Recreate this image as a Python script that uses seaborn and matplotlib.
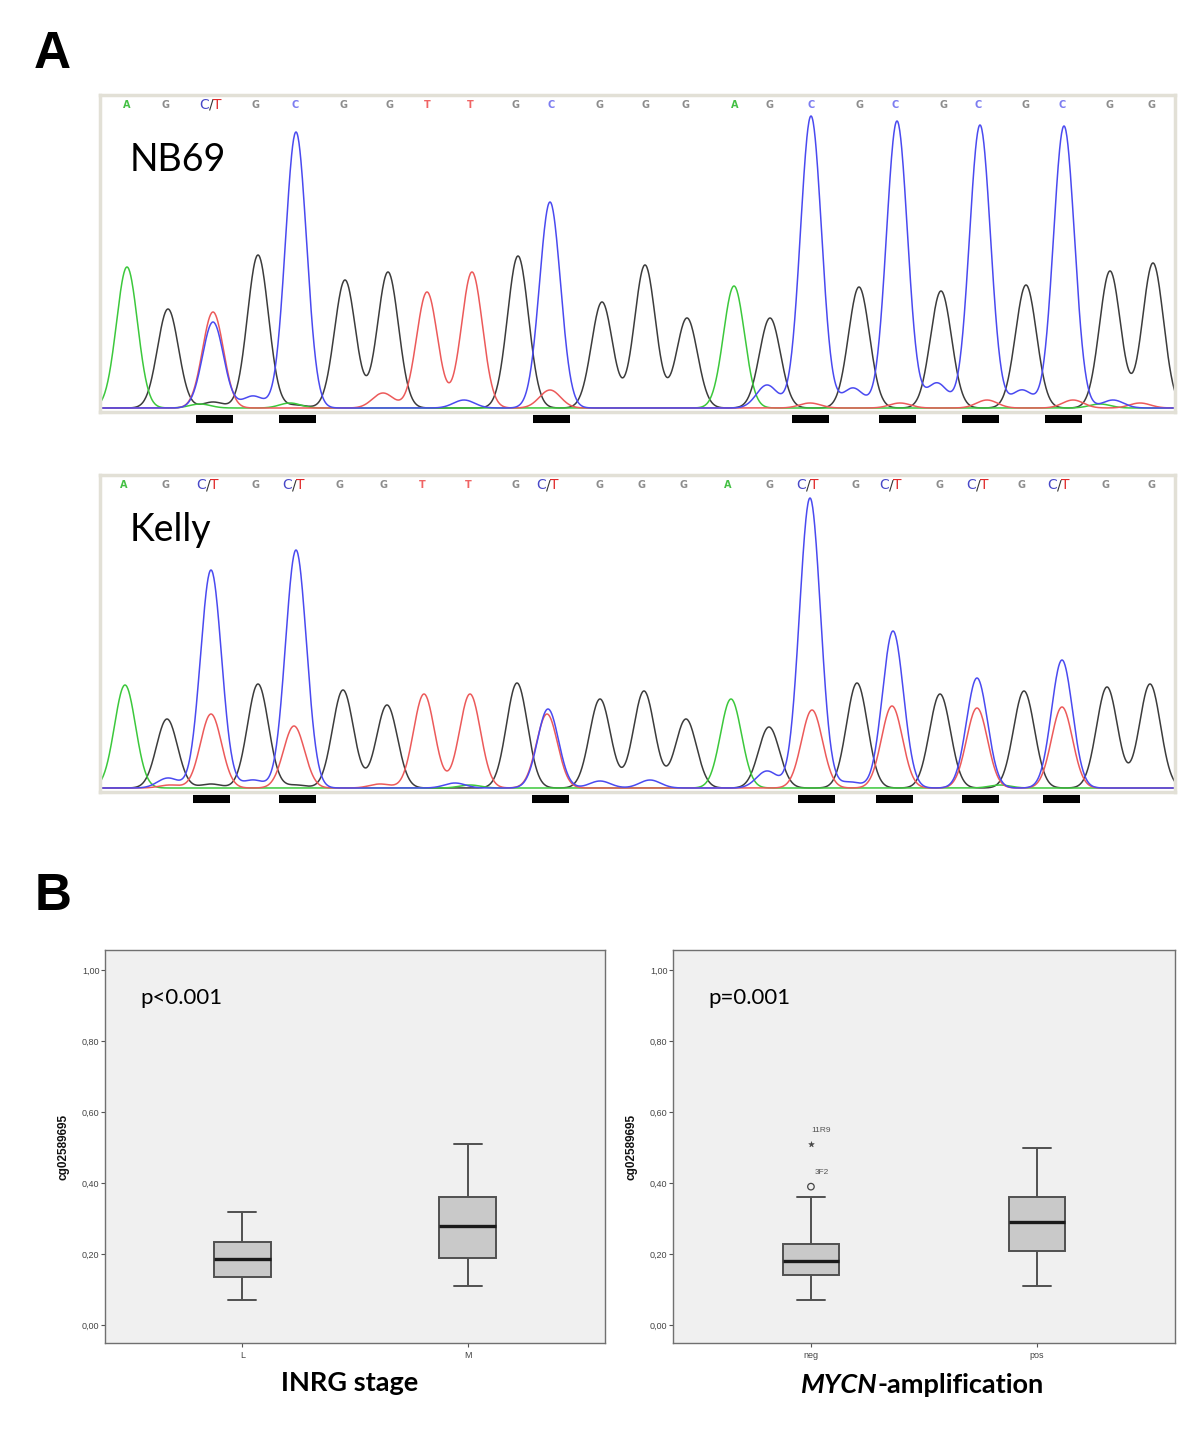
import numpy as np
import pandas as pd
import seaborn as sns
import matplotlib.pyplot as plt

# ----------------------------------------------------------------------------
# data
# ----------------------------------------------------------------------------

# panel A: base calls and their scan positions
nb69_bases = ['A', 'G', 'C/T', 'G', 'C', 'G', 'G', 'T', 'T', 'G', 'C', 'G', 'G',
              'G', 'A', 'G', 'C', 'G', 'C', 'G', 'C', 'G', 'C', 'G', 'G']
nb69_label_x = [127, 166, 211, 256, 295, 343, 389, 427, 470, 516, 551, 600, 645,
                686, 735, 770, 811, 859, 895, 943, 978, 1026, 1062, 1110, 1152]
kelly_bases = ['A', 'G', 'C/T', 'G', 'C/T', 'G', 'G', 'T', 'T', 'G', 'C/T', 'G', 'G',
               'G', 'A', 'G', 'C/T', 'G', 'C/T', 'G', 'C/T', 'G', 'C/T', 'G', 'G']
kelly_label_x = [124, 166, 208, 256, 294, 340, 384, 422, 468, 516, 548, 599, 641,
                 683, 728, 769, 808, 856, 891, 939, 978, 1022, 1059, 1106, 1151]

# peaks per dye channel: (scan position, signal)
nb69_peaks = {
    'G': [(168, 99), (258, 153), (345, 128), (388, 136), (518, 152), (602, 106),
          (645, 143), (687, 90), (770, 90), (859, 121), (941, 117), (1026, 123),
          (1110, 137), (1153, 145), (213, 6), (296, 3)],
    'A': [(127, 141), (734, 122), (200, 4), (290, 5), (1100, 4)],
    'T': [(213, 96), (427, 116), (472, 136), (383, 15), (550, 18), (810, 5),
          (900, 5), (987, 8), (1073, 8), (1140, 5)],
    'C': [(213, 86), (296, 276), (550, 206), (811, 292), (897, 287), (980, 283),
          (1064, 282), (253, 12), (464, 8), (767, 23), (853, 20), (937, 25),
          (1022, 18), (1113, 8)],
}
kelly_peaks = {
    'G': [(167, 69), (258, 104), (343, 98), (387, 83), (517, 105), (600, 89),
          (644, 97), (686, 69), (769, 61), (857, 105), (940, 94), (1024, 97),
          (1107, 101), (1150, 104), (211, 4), (296, 3)],
    'A': [(125, 103), (731, 89), (470, 3), (1000, 3)],
    'T': [(211, 74), (294, 62), (424, 94), (470, 94), (547, 74), (812, 78),
          (892, 82), (977, 80), (1062, 81), (170, 3), (380, 4)],
    'C': [(211, 218), (296, 238), (548, 79), (810, 290), (893, 157), (977, 110),
          (1062, 128), (168, 10), (253, 8), (455, 5), (600, 7), (650, 8),
          (767, 17), (850, 6)],
}

# CpG sites marked under the traces
nb69_cpg_x = [214, 297, 551, 810, 897, 980, 1063]
kelly_cpg_x = [211, 297, 550, 816, 894, 980, 1061]

# panel B: box summaries [min, q1, median, q3, max]
inrg_groups = ['L', 'M']
inrg_stats = [[0.07, 0.135, 0.185, 0.235, 0.32],
              [0.11, 0.19, 0.28, 0.36, 0.51]]
mycn_groups = ['neg', 'pos']
mycn_stats = [[0.07, 0.14, 0.18, 0.23, 0.36],
              [0.11, 0.21, 0.29, 0.36, 0.50]]
mycn_outlier_values = [0.39, 0.51]
mycn_outlier_labels = ['3F2', '11R9']
mycn_outlier_markers = ['o', '*']

ytick_values = [0.0, 0.2, 0.4, 0.6, 0.8, 1.0]
ytick_labels = ['0,00', '0,20', '0,40', '0,60', '0,80', '1,00']

# ----------------------------------------------------------------------------
# style
# ----------------------------------------------------------------------------
sns.set_theme(style='white')
plt.rcParams['font.family'] = ['Liberation Sans', 'DejaVu Sans']
plt.rcParams['text.color'] = 'black'

channel_colors = {'G': '#3c3c3c', 'A': '#3cc83c', 'T': '#ec5a5a', 'C': '#4a4af0'}
label_colors = {'A': '#44c044', 'G': '#8c8c8c', 'C': '#7c7cf0', 'T': '#f06464'}
calibri_like = ['Lato', 'DejaVu Sans']


def build_traces(peaks, grid, sigma=10.5):
    frames = []
    for ch in ['G', 'A', 'T', 'C']:
        sig = np.zeros_like(grid)
        for pos, h in peaks[ch]:
            sig += h * np.exp(-(grid - pos) ** 2 / (2 * sigma ** 2))
        frames.append(pd.DataFrame({'scan': grid, 'signal': sig, 'channel': ch}))
    return pd.concat(frames, ignore_index=True)


def draw_chromatogram(ax, peaks, bases, label_x, cpg_x, name, name_y):
    grid = np.linspace(100, 1175, 2200)
    df = build_traces(peaks, grid)
    sns.lineplot(data=df, x='scan', y='signal', hue='channel',
                 hue_order=['G', 'A', 'T', 'C'], palette=channel_colors,
                 estimator=None, sort=False, linewidth=1.1, legend=False, ax=ax)
    ax.set_xlim(100, 1175)
    ax.set_ylim(-4, 313)
    ax.set_xticks([])
    ax.set_yticks([])
    ax.set_xlabel('')
    ax.set_ylabel('')
    for sp in ax.spines.values():
        sp.set_color('#e2e0d6')
        sp.set_linewidth(2.5)

    # base calls along the top
    for b, x in zip(bases, label_x):
        if b == 'C/T':
            ax.text(x, 303, '/', color='#333333', fontsize=10, ha='center',
                    va='center', family='DejaVu Sans')
            ax.annotate('C', xy=(x, 303), xytext=(-1.6, 0), textcoords='offset points',
                        color='#4848c8', fontsize=10, ha='right', va='center',
                        family='DejaVu Sans')
            ax.annotate('T', xy=(x, 303), xytext=(1.6, 0), textcoords='offset points',
                        color='#e02828', fontsize=10, ha='left', va='center',
                        family='DejaVu Sans')
        else:
            ax.text(x, 303, b, color=label_colors[b], fontsize=7, ha='center',
                    va='center', family='DejaVu Sans', weight='bold')

    # CpG markers below the baseline
    cx = np.array(cpg_x)
    ax.hlines([-11] * len(cx), cx - 18.5, cx + 18.5, colors='black',
              linewidth=5.8, capstyle='butt', clip_on=False)

    ax.text(130, name_y, name, fontsize=27, family=calibri_like, color='black',
            ha='left', va='center')


def draw_boxes(ax, groups, stats, p_text):
    rows = [(g, v) for g, s in zip(groups, stats) for v in s]
    df = pd.DataFrame(rows, columns=['group', 'value'])
    sns.boxplot(data=df, x='group', y='value', order=groups, width=0.25,
                whis=(0, 100), color='#c9c9c9', saturation=1, linecolor='#505050',
                linewidth=1.4, showfliers=False,
                medianprops=dict(color='#1a1a1a', linewidth=2.4), ax=ax)
    ax.set_facecolor('#f0f0f0')
    ax.set_xlim(-0.61, 1.61)
    ax.set_ylim(-0.05, 1.056)
    ax.set_yticks(ytick_values)
    ax.set_yticklabels(ytick_labels)
    ax.tick_params(axis='both', which='major', direction='out', length=3, width=0.8,
                   color='#555555', labelsize=6.5, labelcolor='#444444', pad=1,
                   left=True, bottom=True)
    ax.tick_params(axis='x', pad=3)
    ax.set_xlabel('')
    ax.set_ylabel('cg02589695', fontsize=8.5, weight='bold', color='#111111',
                  labelpad=9)
    for sp in ax.spines.values():
        sp.set_color('#707070')
        sp.set_linewidth(1.0)
    ax.text(0.07, 0.878, p_text, transform=ax.transAxes, fontsize=16,
            family=calibri_like, ha='left', va='center', color='black')


# ----------------------------------------------------------------------------
# figure
# ----------------------------------------------------------------------------
fig = plt.figure(figsize=(12, 14.4), dpi=100)
H = 1440.0
W = 1200.0

ax_nb = fig.add_axes([100 / W, 1 - 412 / H, 1075 / W, 317 / H])
ax_ke = fig.add_axes([100 / W, 1 - 792 / H, 1075 / W, 317 / H])
draw_chromatogram(ax_nb, nb69_peaks, nb69_bases, nb69_label_x, nb69_cpg_x, 'NB69', 248)
draw_chromatogram(ax_ke, kelly_peaks, kelly_bases, kelly_label_x, kelly_cpg_x, 'Kelly', 258)

ax_inrg = fig.add_axes([105 / W, 1 - 1343 / H, 500 / W, 393 / H])
ax_mycn = fig.add_axes([673 / W, 1 - 1343 / H, 502 / W, 393 / H])
draw_boxes(ax_inrg, inrg_groups, inrg_stats, 'p<0.001')
draw_boxes(ax_mycn, mycn_groups, mycn_stats, 'p=0.001')

# outliers in the MYCN-negative group
neg_pos = mycn_groups.index('neg')
for val, lab, mk in zip(mycn_outlier_values, mycn_outlier_labels, mycn_outlier_markers):
    if mk == 'o':
        sns.scatterplot(x=[neg_pos], y=[val], marker='o', s=22, facecolor='none',
                        edgecolor='#444444', linewidth=0.9, ax=ax_mycn)
        off = (3, 10)
    else:
        sns.scatterplot(x=[neg_pos], y=[val], marker='*', s=18, color='#444444',
                        edgecolor='#444444', ax=ax_mycn)
        off = (0, 9.5)
    ax_mycn.annotate(lab, xy=(neg_pos, val), xytext=off, textcoords='offset points',
                     fontsize=6, color='#555555', ha='left', va='center')

# axis titles below the box plots
ax_inrg.text(0.49, -0.102, 'INRG stage', transform=ax_inrg.transAxes, fontsize=19.5,
             weight='bold', family=calibri_like, ha='center', va='center',
             color='black')
t1 = ax_mycn.text(0.254, -0.108, 'MYCN', transform=ax_mycn.transAxes, fontsize=19.5,
                  weight='bold', style='italic', family=calibri_like,
                  ha='left', va='center', color='black')
ax_mycn.annotate('-amplification', xycoords=t1, xy=(1, 0.5), fontsize=19.5,
                 weight='bold', family=calibri_like, ha='left', va='center',
                 color='black')

# panel letters
fig.text(52 / W, 1 - 55 / H, 'A', fontsize=37, weight='bold', ha='center',
         va='center', color='black')
fig.text(53 / W, 1 - 897 / H, 'B', fontsize=37, weight='bold', ha='center',
         va='center', color='black')

fig.savefig('out.png', dpi=100, facecolor='white')
